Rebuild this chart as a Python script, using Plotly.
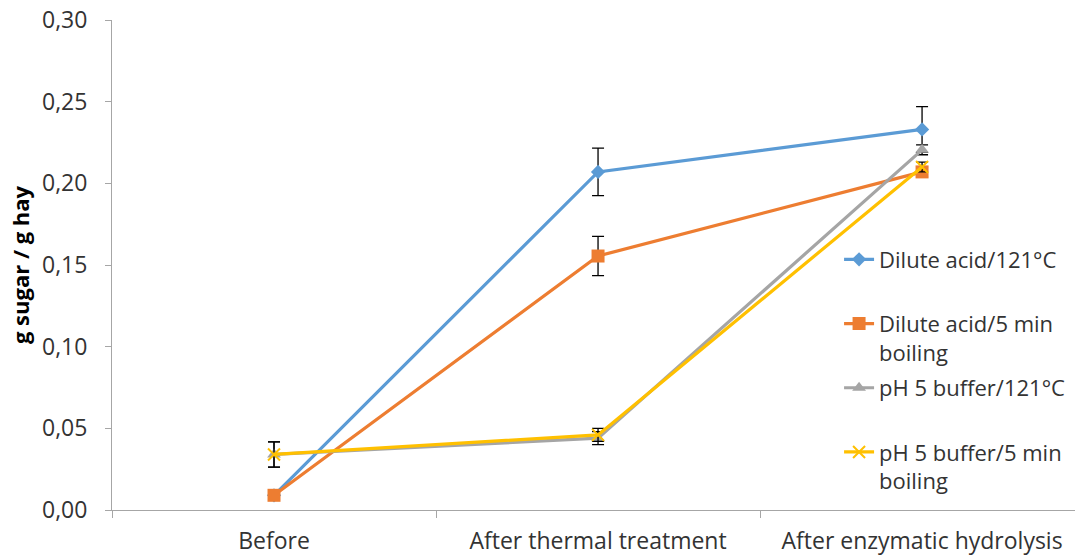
import plotly.graph_objects as go

# Sampling stages along the x axis
stages = ["Before", "After thermal treatment", "After enzymatic hydrolysis"]

# Sugar yield (g sugar / g hay) per pretreatment, with standard deviations
acid_121 = [0.009, 0.207, 0.233]
acid_121_sd = [0.0, 0.0145, 0.014]

acid_boil = [0.009, 0.1555, 0.207]
acid_boil_sd = [0.0, 0.012, 0.003]

buffer_121 = [0.034, 0.044, 0.2205]
buffer_121_sd = [0.0077, 0.004, 0.003]

buffer_boil = [0.034, 0.046, 0.210]
buffer_boil_sd = [0.0077, 0.004, 0.003]

names = [
    "Dilute acid/121°C<br> ",
    "Dilute acid/5 min<br>boiling",
    "pH 5 buffer/121°C<br> ",
    "pH 5 buffer/5 min<br>boiling",
]
colors = ["#5B9BD5", "#ED7D31", "#A5A5A5", "#FFC000"]
symbols = ["diamond", "square", "triangle-up", "x-thin"]
sizes = [11, 13, 12, 12]

series = [
    (acid_121, acid_121_sd),
    (acid_boil, acid_boil_sd),
    (buffer_121, buffer_121_sd),
    (buffer_boil, buffer_boil_sd),
]

FONT = "Open Sans, Lato, sans-serif"
TEXT = "#333333"

fig = go.Figure()
for i, ((vals, sd), name) in enumerate(zip(series, names)):
    fig.add_trace(go.Scatter(
        x=stages,
        y=vals,
        name=name,
        legendgroup=f"g{i}",
        mode="lines+markers",
        line=dict(color=colors[i], width=3.2),
        marker=dict(
            symbol=symbols[i],
            size=sizes[i],
            color=colors[i],
            line=dict(color=colors[i], width=2 if symbols[i] == "x-thin" else 0),
        ),
        error_y=dict(
            type="data",
            array=sd,
            visible=True,
            color="#000000",
            thickness=1.3,
            width=6,
        ),
    ))

fig.update_layout(
    width=1075,
    height=557,
    # fixed margins so the legend does not shrink the plot area
    margin=dict(l=112, r=0, t=20, b=47, autoexpand=False),
    paper_bgcolor="white",
    plot_bgcolor="white",
    separators=", ",
    font=dict(family=FONT, size=23, color=TEXT),
    showlegend=True,
    legend=dict(
        x=0.755,
        y=0.554,
        xanchor="left",
        yanchor="top",
        traceorder="grouped",
        tracegroupgap=4,
        valign="top",
        font=dict(family=FONT, size=22, color=TEXT),
        bgcolor="rgba(0,0,0,0)",
    ),
    xaxis=dict(
        type="category",
        range=[-0.5, 2.472],
        showgrid=False,
        showline=True,
        linecolor="#A6A6A6",
        linewidth=1,
        ticks="outside",
        tickson="boundaries",
        ticklen=7,
        tickcolor="#A6A6A6",
        tickfont=dict(family=FONT, size=23, color=TEXT),
        ticklabelstandoff=10,
        zeroline=False,
    ),
    yaxis=dict(
        range=[0, 0.30],
        dtick=0.05,
        tickformat=".2f",
        showgrid=False,
        showline=True,
        linecolor="#A6A6A6",
        linewidth=1,
        ticks="outside",
        ticklen=6,
        tickcolor="#A6A6A6",
        tickfont=dict(family=FONT, size=23, color=TEXT),
        ticklabelstandoff=13,
        zeroline=False,
        title=dict(
            text="<b>g sugar / g hay</b>",
            font=dict(family=FONT, size=22, color="#000000"),
            standoff=6,
        ),
    ),
)

fig.write_html("out.html")
